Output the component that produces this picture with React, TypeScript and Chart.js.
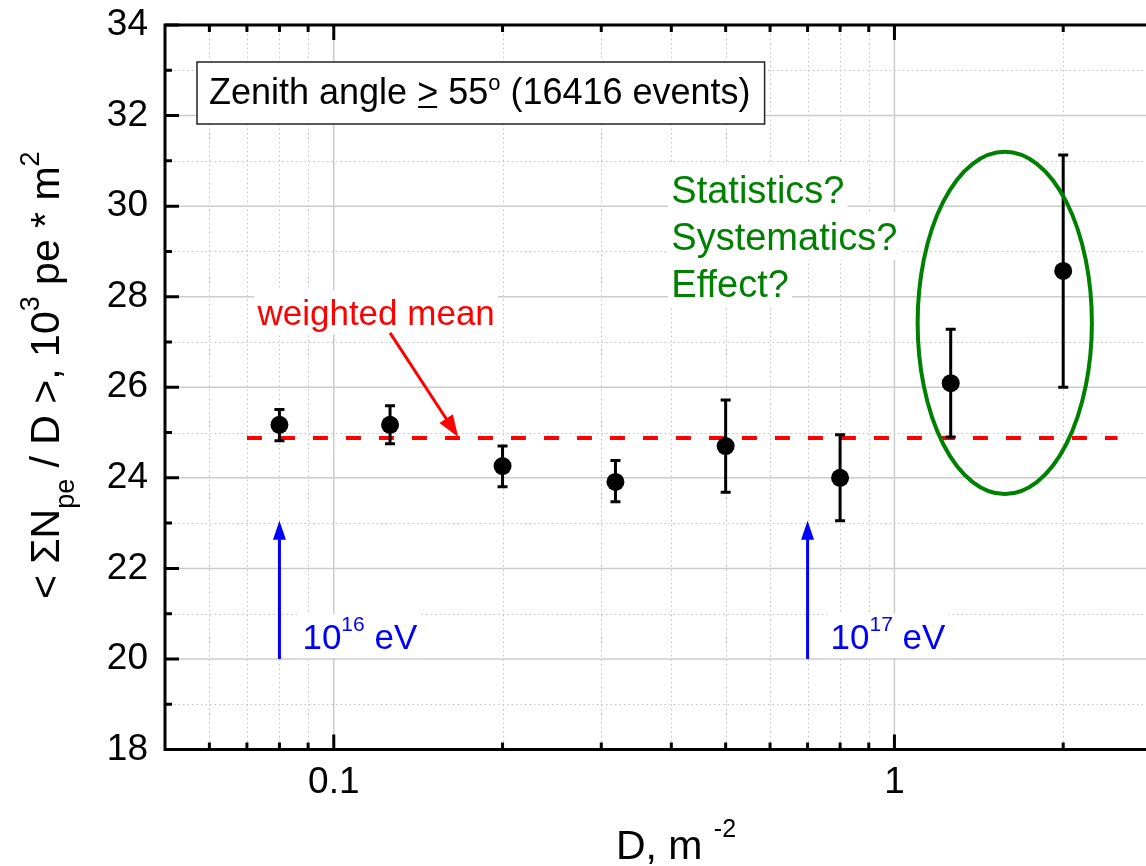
import React, { useEffect, useRef } from 'react';
import { Chart, registerables } from 'chart.js';

Chart.register(...registerables);

// ---------- data ----------
const D_VALUES = [0.08, 0.126, 0.2, 0.318, 0.5, 0.8, 1.26, 2.0];
const MEAN_VALUES = [25.17, 25.17, 24.26, 23.91, 24.7, 24.0, 26.09, 28.57];
const ERR_LOW = [24.82, 24.75, 23.8, 23.47, 23.68, 23.05, 24.9, 26.0];
const ERR_HIGH = [25.51, 25.59, 24.7, 24.38, 25.72, 24.95, 27.28, 31.13];

const WEIGHTED_MEAN = 24.88;
const WEIGHTED_MEAN_RANGE = [0.07, 2.5];

const X_MIN = 0.05;
const X_MAX = 2.81;
const Y_MIN = 18;
const Y_MAX = 34;

const X_MAJOR_TICKS = [0.1, 1];
const X_TICK_LABELS = ['0.1', '1'];
const X_MINOR_TICKS = [0.06, 0.07, 0.08, 0.09, 0.2, 0.3, 0.4, 0.5, 0.6, 0.7, 0.8, 0.9, 2];
const Y_MAJOR_TICKS = [18, 20, 22, 24, 26, 28, 30, 32, 34];
const Y_TICK_LABELS = ['18', '20', '22', '24', '26', '28', '30', '32', '34'];
const Y_MINOR_TICKS = [19, 21, 23, 25, 27, 29, 31, 33];

const ENERGY_ARROWS = [
  { x: 0.08, from: 20, to: 23.05, exp: '16' },
  { x: 0.7, from: 20, to: 23.05, exp: '17' },
];
const MEAN_LABEL = { x: 0.119, y: 27.37, text: 'weighted mean' };
const MEAN_ARROW = { x0: 0.126, y0: 27.2, x1: 0.1667, y1: 24.9 };
const QUESTION_LINES = ['Statistics?', 'Systematics?', 'Effect?'];
const QUESTION_ANCHOR = { x: 0.4, y: 30.07 };
const ELLIPSE = { xMin: 1.1, xMax: 2.25, yMin: 23.64, yMax: 31.2 };

const FONT = '"Liberation Sans", Arial, Helvetica, sans-serif';

type Seg = { t: string; k?: 'sup' | 'sub'; u?: boolean };

function segFont(size: number) {
  return `${size}px ${FONT}`;
}

function richWidth(ctx: CanvasRenderingContext2D, segs: Seg[], size: number, small: number) {
  let w = 0;
  for (const s of segs) {
    ctx.font = segFont(s.k ? small : size);
    w += ctx.measureText(s.t).width;
  }
  return w;
}

function drawRich(
  ctx: CanvasRenderingContext2D,
  segs: Seg[],
  x: number,
  y: number,
  size: number,
  small: number,
  rise: number,
  drop: number,
  color: string
) {
  let cx = x;
  ctx.fillStyle = color;
  ctx.strokeStyle = color;
  ctx.textBaseline = 'alphabetic';
  ctx.textAlign = 'left';
  for (const s of segs) {
    const sz = s.k ? small : size;
    ctx.font = segFont(sz);
    const dy = s.k === 'sup' ? -rise : s.k === 'sub' ? drop : 0;
    ctx.fillText(s.t, cx, y + dy);
    const w = ctx.measureText(s.t).width;
    if (s.u) {
      ctx.lineWidth = 2;
      ctx.beginPath();
      ctx.moveTo(cx + 1, y + 3);
      ctx.lineTo(cx + w - 1, y + 3);
      ctx.stroke();
    }
    cx += w;
  }
  return cx - x;
}

function bgBox(ctx: CanvasRenderingContext2D, x: number, baseline: number, w: number, size: number) {
  ctx.fillStyle = '#ffffff';
  ctx.fillRect(x - 3, baseline - size * 1.0, w + 6, size * 1.26);
}

function zeroPadding(s: any) {
  s.paddingTop = 0;
  s.paddingBottom = 0;
  s.paddingLeft = 0;
  s.paddingRight = 0;
}

const annotPlugin = {
  id: 'annot',
  beforeDatasetsDraw(chart: any) {
    const { ctx, chartArea } = chart;
    const xs = chart.scales.x;
    const ys = chart.scales.y;
    const { left: L, right: R, top: T, bottom: B } = chartArea;
    ctx.save();
    // minor grid (dotted)
    ctx.strokeStyle = '#c4c4c4';
    ctx.lineWidth = 1;
    ctx.setLineDash([1.5, 3]);
    for (const v of X_MINOR_TICKS) {
      const p = Math.round(xs.getPixelForValue(v)) + 0.5;
      ctx.beginPath();
      ctx.moveTo(p, T);
      ctx.lineTo(p, B);
      ctx.stroke();
    }
    for (const v of Y_MINOR_TICKS) {
      const p = Math.round(ys.getPixelForValue(v)) + 0.5;
      ctx.beginPath();
      ctx.moveTo(L, p);
      ctx.lineTo(R, p);
      ctx.stroke();
    }
    // major grid (solid)
    ctx.setLineDash([]);
    ctx.strokeStyle = '#cccccc';
    ctx.lineWidth = 1.5;
    for (const v of X_MAJOR_TICKS) {
      const p = xs.getPixelForValue(v);
      ctx.beginPath();
      ctx.moveTo(p, T);
      ctx.lineTo(p, B);
      ctx.stroke();
    }
    for (const v of Y_MAJOR_TICKS) {
      if (v === Y_MIN || v === Y_MAX) continue;
      const p = ys.getPixelForValue(v);
      ctx.beginPath();
      ctx.moveTo(L, p);
      ctx.lineTo(R, p);
      ctx.stroke();
    }
    ctx.restore();
  },
  beforeDatasetDraw(chart: any, args: any) {
    if (args.index !== 0) return;
    const { ctx } = chart;
    const xs = chart.scales.x;
    const ys = chart.scales.y;
    ctx.save();
    ctx.strokeStyle = '#000';
    ctx.lineWidth = 3;
    D_VALUES.forEach((d, i) => {
      const px = xs.getPixelForValue(d);
      const t = ys.getPixelForValue(ERR_HIGH[i]);
      const b = ys.getPixelForValue(ERR_LOW[i]);
      ctx.beginPath();
      ctx.moveTo(px, t);
      ctx.lineTo(px, b);
      ctx.moveTo(px - 5, t);
      ctx.lineTo(px + 5, t);
      ctx.moveTo(px - 5, b);
      ctx.lineTo(px + 5, b);
      ctx.stroke();
    });
    ctx.restore();
  },
  afterDatasetsDraw(chart: any) {
    const { ctx, chartArea } = chart;
    const xs = chart.scales.x;
    const ys = chart.scales.y;
    const { left: L, right: R, top: T, bottom: B } = chartArea;
    ctx.save();

    // axes frame (left, bottom, top)
    ctx.strokeStyle = '#000';
    ctx.lineWidth = 3;
    ctx.beginPath();
    ctx.moveTo(L, T - 1.5);
    ctx.lineTo(L, B + 1.5);
    ctx.moveTo(L - 1.5, B);
    ctx.lineTo(R, B);
    ctx.moveTo(L - 1.5, T);
    ctx.lineTo(R, T);
    ctx.stroke();
    // inward ticks
    ctx.beginPath();
    for (const v of Y_MAJOR_TICKS) {
      const p = ys.getPixelForValue(v);
      ctx.moveTo(L, p);
      ctx.lineTo(L + 14, p);
    }
    for (const v of Y_MINOR_TICKS) {
      const p = ys.getPixelForValue(v);
      ctx.moveTo(L, p);
      ctx.lineTo(L + 7, p);
    }
    for (const v of X_MAJOR_TICKS) {
      const p = xs.getPixelForValue(v);
      ctx.moveTo(p, B);
      ctx.lineTo(p, B - 15);
      ctx.moveTo(p, T);
      ctx.lineTo(p, T + 15);
    }
    for (const v of X_MINOR_TICKS) {
      const p = xs.getPixelForValue(v);
      ctx.moveTo(p, B);
      ctx.lineTo(p, B - 7);
      ctx.moveTo(p, T);
      ctx.lineTo(p, T + 7);
    }
    ctx.stroke();

    // blue energy arrows
    for (const a of ENERGY_ARROWS) {
      const px = xs.getPixelForValue(a.x);
      const y0 = ys.getPixelForValue(a.from);
      const yt = ys.getPixelForValue(a.to);
      ctx.strokeStyle = '#0000ff';
      ctx.fillStyle = '#0000ff';
      ctx.lineWidth = 3;
      ctx.beginPath();
      ctx.moveTo(px, y0);
      ctx.lineTo(px, yt + 14);
      ctx.stroke();
      ctx.beginPath();
      ctx.moveTo(px, yt);
      ctx.lineTo(px - 6.5, yt + 19);
      ctx.lineTo(px + 6.5, yt + 19);
      ctx.closePath();
      ctx.fill();
      const segs: Seg[] = [{ t: '10' }, { t: a.exp, k: 'sup' }, { t: ' eV' }];
      const tx = px + 23;
      const tb = y0 - 10;
      const w = richWidth(ctx, segs, 35, 21);
      bgBox(ctx, tx, tb, w, 35);
      drawRich(ctx, segs, tx, tb, 35, 21, 18, 0, '#0000ff');
    }

    // weighted mean label + arrow
    {
      ctx.font = segFont(35);
      const w = ctx.measureText(MEAN_LABEL.text).width;
      const cx = xs.getPixelForValue(MEAN_LABEL.x);
      const by = ys.getPixelForValue(MEAN_LABEL.y);
      bgBox(ctx, cx - w / 2, by, w, 35);
      drawRich(ctx, [{ t: MEAN_LABEL.text }], cx - w / 2, by, 35, 35, 0, 0, '#ff0000');

      const x0 = xs.getPixelForValue(MEAN_ARROW.x0);
      const y0 = ys.getPixelForValue(MEAN_ARROW.y0);
      const x1 = xs.getPixelForValue(MEAN_ARROW.x1);
      const y1 = ys.getPixelForValue(MEAN_ARROW.y1);
      const ang = Math.atan2(y1 - y0, x1 - x0);
      const hl = 22;
      const hw = 8;
      ctx.strokeStyle = '#ff0000';
      ctx.fillStyle = '#ff0000';
      ctx.lineWidth = 3;
      ctx.beginPath();
      ctx.moveTo(x0, y0);
      ctx.lineTo(x1 - (hl - 4) * Math.cos(ang), y1 - (hl - 4) * Math.sin(ang));
      ctx.stroke();
      const bx = x1 - hl * Math.cos(ang);
      const by2 = y1 - hl * Math.sin(ang);
      ctx.beginPath();
      ctx.moveTo(x1, y1);
      ctx.lineTo(bx + hw * Math.sin(ang), by2 - hw * Math.cos(ang));
      ctx.lineTo(bx - hw * Math.sin(ang), by2 + hw * Math.cos(ang));
      ctx.closePath();
      ctx.fill();
    }

    // green questions
    {
      const lx = xs.getPixelForValue(QUESTION_ANCHOR.x);
      const by = ys.getPixelForValue(QUESTION_ANCHOR.y);
      QUESTION_LINES.forEach((line, i) => {
        ctx.font = segFont(38);
        const w = ctx.measureText(line).width;
        const b = by + i * 47;
        bgBox(ctx, lx, b, w, 38);
        drawRich(ctx, [{ t: line }], lx, b, 38, 38, 0, 0, '#008000');
      });
    }

    // ellipse
    {
      const x1 = xs.getPixelForValue(ELLIPSE.xMin);
      const x2 = xs.getPixelForValue(ELLIPSE.xMax);
      const y1 = ys.getPixelForValue(ELLIPSE.yMax);
      const y2 = ys.getPixelForValue(ELLIPSE.yMin);
      ctx.strokeStyle = '#008000';
      ctx.lineWidth = 4;
      ctx.beginPath();
      ctx.ellipse((x1 + x2) / 2, (y1 + y2) / 2, (x2 - x1) / 2, (y2 - y1) / 2, 0, 0, Math.PI * 2);
      ctx.stroke();
    }

    // zenith box
    {
      const segs: Seg[] = [
        { t: 'Zenith angle ' },
        { t: '>', u: true },
        { t: ' 55' },
        { t: 'o', k: 'sup' },
        { t: ' (16416 events)' },
      ];
      const w = richWidth(ctx, segs, 36, 22);
      const bx = L + 32;
      const by = T + 37;
      ctx.fillStyle = '#ffffff';
      ctx.fillRect(bx, by, w + 26, 62);
      ctx.strokeStyle = '#222';
      ctx.lineWidth = 1.5;
      ctx.strokeRect(bx, by, w + 26, 62);
      drawRich(ctx, segs, bx + 12, by + 42, 36, 22, 14, 0, '#000');
    }

    // x title
    {
      const segs: Seg[] = [{ t: 'D, m ' }, { t: '-2', k: 'sup' }];
      const w = richWidth(ctx, segs, 41, 25);
      drawRich(ctx, segs, 676 - w / 2, 859, 41, 25, 22, 0, '#000');
    }

    // y title (rotated)
    {
      const segs: Seg[] = [
        { t: '< \u03A3N' },
        { t: 'pe', k: 'sub' },
        { t: ' / D >, 10' },
        { t: '3', k: 'sup' },
        { t: ' pe * m' },
        { t: '2', k: 'sup' },
      ];
      const w = richWidth(ctx, segs, 41, 27);
      ctx.save();
      ctx.translate(59, (T + B) / 2 - 12);
      ctx.rotate(-Math.PI / 2);
      drawRich(ctx, segs, -w / 2, 0, 41, 27, 20, 15, '#000');
      ctx.restore();
    }

    ctx.restore();
  },
};

export default function App() {
  const ref = useRef<HTMLCanvasElement>(null);
  useEffect(() => {
    const canvas = ref.current;
    if (!canvas) return;
    const chart = new Chart(canvas, {
      type: 'scatter',
      data: {
        datasets: [
          {
            type: 'scatter',
            label: 'data',
            data: D_VALUES.map((x, i) => ({ x, y: MEAN_VALUES[i] })),
            pointRadius: 9,
            pointHoverRadius: 9,
            backgroundColor: '#000',
            borderColor: '#000',
            borderWidth: 0,
            order: 0,
          },
          {
            type: 'line',
            label: 'weighted mean',
            data: WEIGHTED_MEAN_RANGE.map((x) => ({ x, y: WEIGHTED_MEAN })),
            borderColor: '#ff0000',
            borderWidth: 4,
            borderDash: [15, 18],
            pointRadius: 0,
            fill: false,
            order: 1,
          } as any,
        ],
      },
      options: {
        responsive: false,
        animation: false,
        devicePixelRatio: 1,
        events: [],
        layout: { autoPadding: false, padding: { top: 25, left: 0, right: 0, bottom: 0 } },
        plugins: { legend: { display: false }, tooltip: { enabled: false } },
        scales: {
          x: {
            type: 'logarithmic',
            position: 'bottom',
            min: X_MIN,
            max: X_MAX,
            afterBuildTicks: (s: any) => {
              s.ticks = X_MAJOR_TICKS.map((v) => ({ value: v }));
            },
            afterFit: (s: any) => {
              s.height = 116.5;
              zeroPadding(s);
            },
            ticks: {
              autoSkip: false,
              maxRotation: 0,
              minRotation: 0,
              padding: 11,
              color: '#000',
              font: { family: FONT, size: 37 },
              callback: (_v: any, i: number) => X_TICK_LABELS[i],
            },
            grid: { display: false, drawTicks: false },
            border: { display: false },
          },
          y: {
            type: 'linear',
            min: Y_MIN,
            max: Y_MAX,
            afterBuildTicks: (s: any) => {
              s.ticks = Y_MAJOR_TICKS.map((v) => ({ value: v }));
            },
            afterFit: (s: any) => {
              s.width = 165;
              zeroPadding(s);
            },
            ticks: {
              padding: 17,
              color: '#000',
              font: { family: FONT, size: 37 },
              callback: (_v: any, i: number) => Y_TICK_LABELS[i],
            },
            grid: { display: false, drawTicks: false },
            border: { display: false },
          },
        },
      } as any,
      plugins: [annotPlugin as any],
    });
    return () => chart.destroy();
  }, []);
  return (
    <div style={{ position: 'absolute', left: 0, top: 0, width: 1146, height: 866, background: '#fff', overflow: 'hidden' }}>
      <canvas ref={ref} width={1146} height={866} style={{ display: 'block', width: 1146, height: 866 }} />
    </div>
  );
}
